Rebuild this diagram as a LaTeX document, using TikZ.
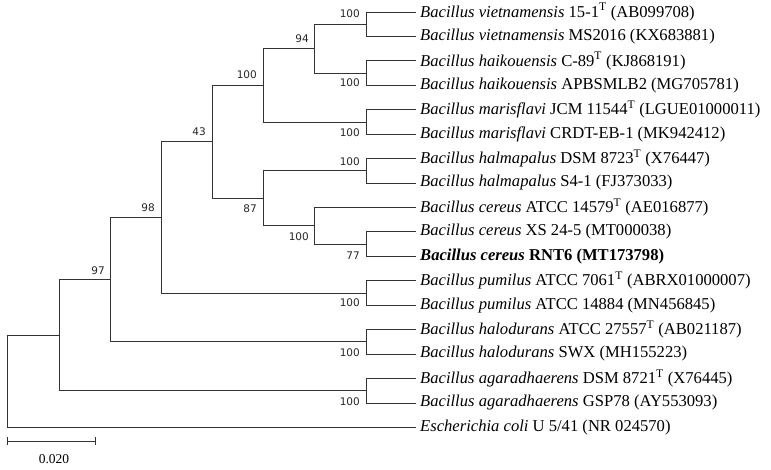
\documentclass[tikz,border=0pt]{standalone}
\usepackage{fontspec}
\setmainfont{Liberation Serif}
\newfontfamily\bsfont{DejaVu Sans}
\begin{document}
\begin{tikzpicture}[x=1pt,y=-1pt,
  br/.style={draw=black!80,line width=0.8pt},
  leaf/.style={anchor=west,inner xsep=4pt,inner ysep=0pt,font=\fontsize{16.6}{18}\selectfont},
  bs/.style={anchor=east,inner sep=0pt,font=\bsfont\fontsize{10.5}{12}\selectfont,text=black!85}]
\useasboundingbox (0,0) rectangle (771,470);
% leaves
\node[leaf] (l1) at (416,12.0) {\textit{Bacillus vietnamensis} 15-1\textsuperscript{T} (AB099708)};
\node[leaf] (l2) at (416,36.4) {\textit{Bacillus vietnamensis} MS2016 (KX683881)};
\node[leaf] (l3) at (416,60.9) {\textit{Bacillus haikouensis} C-89\textsuperscript{T} (KJ868191)};
\node[leaf] (l4) at (416,85.3) {\textit{Bacillus haikouensis} APBSMLB2 (MG705781)};
\node[leaf] (l5) at (416,109.7) {\textit{Bacillus marisflavi} JCM 11544\textsuperscript{T} (LGUE01000011)};
\node[leaf] (l6) at (416,134.2) {\textit{Bacillus marisflavi} CRDT-EB-1 (MK942412)};
\node[leaf] (l7) at (416,158.6) {\textit{Bacillus halmapalus} DSM 8723\textsuperscript{T} (X76447)};
\node[leaf] (l8) at (416,183.0) {\textit{Bacillus halmapalus} S4-1 (FJ373033)};
\node[leaf] (l9) at (416,207.4) {\textit{Bacillus cereus} ATCC 14579\textsuperscript{T} (AE016877)};
\node[leaf] (l10) at (416,231.9) {\textit{Bacillus cereus} XS 24-5 (MT000038)};
\node[leaf] (l11) at (416,256.3) {\textbf{\textit{Bacillus cereus} RNT6 (MT173798)}};
\node[leaf] (l12) at (416,280.7) {\textit{Bacillus pumilus} ATCC 7061\textsuperscript{T} (ABRX01000007)};
\node[leaf] (l13) at (416,305.2) {\textit{Bacillus pumilus} ATCC 14884 (MN456845)};
\node[leaf] (l14) at (416,329.6) {\textit{Bacillus halodurans} ATCC 27557\textsuperscript{T} (AB021187)};
\node[leaf] (l15) at (416,354.0) {\textit{Bacillus halodurans} SWX (MH155223)};
\node[leaf] (l16) at (416,378.5) {\textit{Bacillus agaradhaerens} DSM 8721\textsuperscript{T} (X76445)};
\node[leaf] (l17) at (416,402.9) {\textit{Bacillus agaradhaerens} GSP78 (AY553093)};
\node[leaf] (l18) at (416,427.3) {\textit{Escherichia coli} U 5/41 (NR 024570)};
% internal nodes
\coordinate (p1) at (366,24.2);
\coordinate (p2) at (366,73.1);
\coordinate (n94) at (314,48.6);
\coordinate (p3) at (366,122.0);
\coordinate (n100) at (263,85.3);
\coordinate (p4) at (366,170.8);
\coordinate (n77) at (366,244.1);
\coordinate (nc) at (314,225.8);
\coordinate (n87) at (263,198.3);
\coordinate (n43) at (212,141.8);
\coordinate (p5) at (366,293.0);
\coordinate (n98) at (161,217.4);
\coordinate (p6) at (366,341.8);
\coordinate (n97) at (110,279.7);
\coordinate (p7) at (366,390.7);
\coordinate (nr2) at (59,335.2);
\coordinate (root) at (7.3,381.3);
% branches
\foreach \a/\b in {p1/l1.west,p1/l2.west,p2/l3.west,p2/l4.west,n94/p1,n94/p2,
  p3/l5.west,p3/l6.west,n100/n94,n100/p3,p4/l7.west,p4/l8.west,
  n77/l10.west,n77/l11.west,nc/l9.west,nc/n77,n87/p4,n87/nc,n43/n100,n43/n87,
  p5/l12.west,p5/l13.west,n98/n43,n98/p5,p6/l14.west,p6/l15.west,n97/n98,n97/p6,
  p7/l16.west,p7/l17.west,nr2/n97,nr2/p7,root/nr2,root/l18.west}
  \draw[br] (\a) |- (\b);
% bootstrap values
\node[bs] (b1) at (360,14) {100};
\node[bs] (b2) at (309,39) {94};
\node[bs] (b3) at (257,75) {100};
\node[bs] (b4) at (360,83) {100};
\node[bs] (b5) at (206,132) {43};
\node[bs] (b6) at (360,132.5) {100};
\node[bs] (b7) at (360,161.5) {100};
\node[bs] (b8) at (155,208) {98};
\node[bs] (b9) at (257,209) {87};
\node[bs] (b10) at (309,236.5) {100};
\node[bs] (b11) at (360,255.7) {77};
\node[bs] (b12) at (105,271) {97};
\node[bs] (b13) at (360,303) {100};
\node[bs] (b14) at (360,352.7) {100};
\node[bs] (b15) at (360,402) {100};
% scale bar
\coordinate (s1) at (7,441);
\coordinate (s2) at (95,441);
\draw[br] (s1) -- (s2);
\draw[br] ([yshift=-4]s1) -- ([yshift=4]s1);
\draw[br] ([yshift=-4]s2) -- ([yshift=4]s2);
\node[font=\fontsize{13.5}{15}\selectfont] (sl) at (54,459) {0.020};
\end{tikzpicture}
\end{document}
